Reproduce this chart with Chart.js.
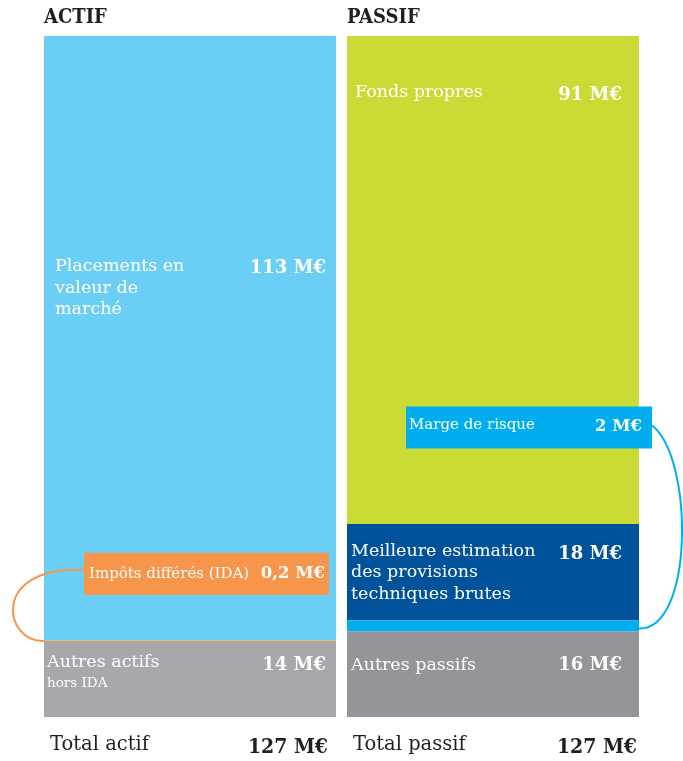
<!DOCTYPE html>
<html><head><meta charset="utf-8">
<script src="https://cdn.jsdelivr.net/npm/chart.js@4"></script>
<style>html,body{margin:0;padding:0;background:#fff}#wrap{width:683px;height:761px;position:relative}</style>
</head><body><div id="wrap"><canvas id="c" width="683" height="761"></canvas></div>
<script>
const categories = ['ACTIF', 'PASSIF'];
const totalLabels = ['Total actif', 'Total passif'];
const totals = [127, 127];
// ACTIF segments (bottom to top)
const actifNames = ['Autres actifs|hors IDA', 'Impôts différés (IDA)', 'Placements en|valeur de|marché'];
const actifValues = [14, 0.2, 113];
const actifValueLabels = ['14 M€', '0,2 M€', '113 M€'];
// PASSIF segments (bottom to top)
const passifNames = ['Autres passifs', 'Marge de risque', 'Meilleure estimation|des provisions|techniques brutes', 'Fonds propres'];
const passifValues = [16, 2, 18, 91];
const passifValueLabels = ['16 M€', '2 M€', '18 M€', '91 M€'];

const actifColors = ['#A7A8AB', '#F7964A', '#6BCEF5'];
const passifColors = ['#939598', '#00AEEF', '#00529B', '#CBDB36'];

const datasets = [];
actifValues.forEach((v, i) => datasets.push({
  label: actifNames[i], data: [v, null], backgroundColor: actifColors[i],
  valueLabel: actifValueLabels[i], side: 0, idx: i
}));
passifValues.forEach((v, i) => datasets.push({
  label: passifNames[i], data: [null, v], backgroundColor: passifColors[i],
  valueLabel: passifValueLabels[i], side: 1, idx: i
}));

const SERIF = '"DejaVu Serif", serif';
const SERIF_C = '"DejaVu Serif Condensed", "DejaVu Serif", serif';

const labelsPlugin = {
  id: 'labelsPlugin',
  afterDatasetsDraw(chart) {
    const ctx = chart.ctx;
    const ys = chart.scales.y;
    const el = (di) => chart.getDatasetMeta(di).data[chart.data.datasets[di].side];
    const box = (e) => ({ l: e.x - e.width / 2, r: e.x + e.width / 2, t: e.y, b: e.base });

    ctx.save();
    ctx.textBaseline = 'middle';
    const drawLines = (lines, x, y, size, lh, color) => {
      ctx.fillStyle = color; ctx.textAlign = 'left';
      ctx.font = `${size}px ${SERIF}`;
      lines.forEach((s, k) => ctx.fillText(s, x, y + k * lh));
    };
    const drawVal = (txt, x, y, size, color) => {
      ctx.fillStyle = color; ctx.textAlign = 'right';
      ctx.font = `bold ${size}px ${SERIF}`;
      ctx.fillText(txt, x, y);
    };

    // Category titles and totals
    categories.forEach((c, i) => {
      const b = box(el(i === 0 ? 0 : 3));
      ctx.fillStyle = '#231F20';
      ctx.textAlign = 'left';
      ctx.font = `bold 20px ${SERIF_C}`;
      ctx.fillText(c, b.l, ys.getPixelForValue(totals[i]) - 18);
      ctx.font = `19.5px ${SERIF}`;
      ctx.fillText(totalLabels[i], b.l + 6, ys.getPixelForValue(0) + 28);
      ctx.font = `bold 21px ${SERIF_C}`;
      ctx.textAlign = 'right';
      ctx.fillText(totals[i] + ' M€', b.r - 8 + i * 6, ys.getPixelForValue(0) + 31);
    });

    // Segment labels
    const segs = [
      { di: 0, dy: 21, dx: 3, vdy: 23, small: true },
      { di: 2, dy: 232, dx: 11, vdy: 233 },
      { di: 3, dy: 34, dx: 4, vdy: 34 },
      { di: 5, dy: 27, dx: 4, vdy: 30 },
      { di: 6, dy: 56, dx: 8, vdy: 59 }
    ];
    segs.forEach(s => {
      const ds = chart.data.datasets[s.di];
      const b = box(el(s.di));
      const lines = ds.label.split('|');
      if (s.small) {
        drawLines([lines[0]], b.l + s.dx, b.t + s.dy, 17.5, 21, '#fff');
        drawLines([lines[1]], b.l + s.dx, b.t + s.dy + 21, 13.5, 21, '#fff');
      } else {
        drawLines(lines, b.l + s.dx, b.t + s.dy, 17.5, 21.5, '#fff');
      }
      drawVal(ds.valueLabel, b.r - 10 - (s.di >= 3 ? 7 : 0), b.t + s.vdy, 18, '#fff');
    });

    // Callout IDA
    {
      const ds = chart.data.datasets[1];
      const b = box(el(1));
      const bx = { l: b.l + 40, r: b.r - 7, t: b.t - 88, b: b.t - 46 };
      const cy = (bx.t + bx.b) / 2;
      ctx.strokeStyle = '#F7964A'; ctx.lineWidth = 2;
      ctx.beginPath();
      ctx.moveTo(bx.l, cy - 4);
      ctx.bezierCurveTo(b.l - 55, cy - 8, b.l - 40, b.t + 2, b.l, b.t);
      ctx.stroke();
      ctx.fillStyle = ds.backgroundColor;
      ctx.fillRect(bx.l, bx.t, bx.r - bx.l, bx.b - bx.t);
      drawLines([ds.label], bx.l + 5, cy, 15, 0, '#fff');
      drawVal(ds.valueLabel, bx.r - 4, cy, 16.5, '#fff');
    }
    // Callout Marge
    {
      const ds = chart.data.datasets[4];
      const b = box(el(4));
      const bx = { l: b.l + 59, r: b.r + 13, t: b.t - 214, b: b.t - 172 };
      const cy = (bx.t + bx.b) / 2;
      ctx.strokeStyle = '#00AEEF'; ctx.lineWidth = 2;
      ctx.beginPath();
      ctx.moveTo(bx.r, cy - 2);
      ctx.bezierCurveTo(b.r + 55, cy + 30, b.r + 55, b.t + 10, b.r, b.t + 8);
      ctx.stroke();
      ctx.fillStyle = ds.backgroundColor;
      ctx.fillRect(bx.l, bx.t, bx.r - bx.l, bx.b - bx.t);
      drawLines([ds.label], bx.l + 3, cy - 2, 15, 0, '#fff');
      drawVal(ds.valueLabel, bx.r - 10, cy - 1, 16.5, '#fff');
    }
    ctx.restore();
  }
};

new Chart(document.getElementById('c'), {
  type: 'bar',
  data: { labels: categories, datasets },
  options: {
    responsive: false,
    animation: false,
    layout: { padding: { left: 38.5, right: 38.5, top: 36, bottom: 44 } },
    datasets: { bar: { categoryPercentage: 1, barPercentage: 0.9637, borderWidth: 0, skipNull: true } },
    scales: {
      x: { stacked: true, display: false },
      y: { stacked: true, display: false, min: 0, max: 127 }
    },
    plugins: { legend: { display: false }, tooltip: { enabled: false } }
  },
  plugins: [labelsPlugin]
});
</script>
</body></html>
